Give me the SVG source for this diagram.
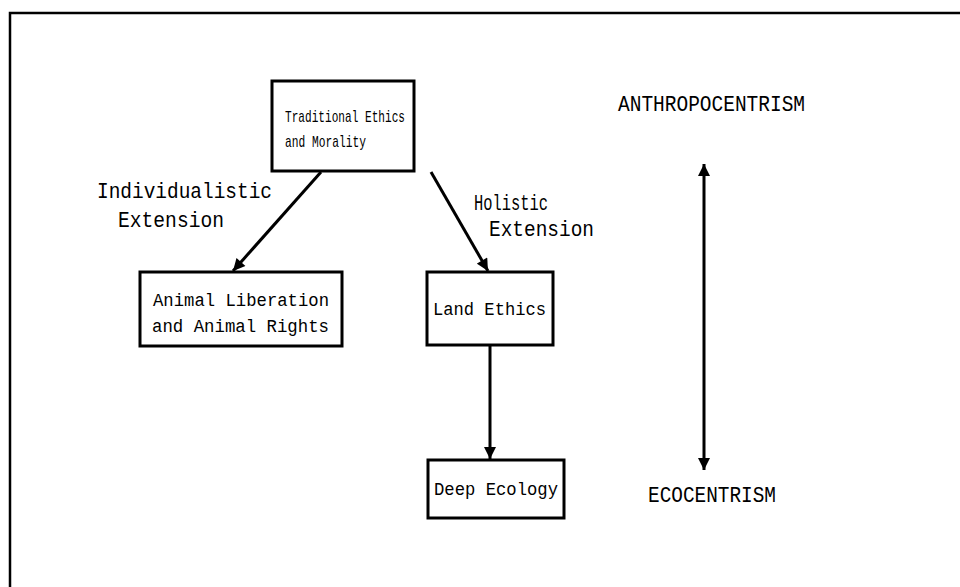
<svg xmlns="http://www.w3.org/2000/svg" width="960" height="587" viewBox="0 0 960 587">
<style>
.box{fill:#fff;stroke:#000;stroke-width:3}
.t{font-family:"Liberation Mono","DejaVu Sans Mono",monospace;fill:#000}
.s{font-size:17px}
.m{font-size:18px}
.l{font-size:22px}
.c{stroke:#000;stroke-width:3;fill:none}
</style>
<defs>
<marker id="ah" viewBox="0 0 10 10" refX="10" refY="5" markerWidth="4.5" markerHeight="4" orient="auto-start-reverse" markerUnits="strokeWidth">
<path d="M0,0 L10,5 L0,10 Z" fill="#000"/>
</marker>
</defs>
<rect width="960" height="587" fill="#fff"/>
<path d="M10,587 V13 H960" fill="none" stroke="#000" stroke-width="2.5"/>
<g id="connectors">
<line class="c" x1="321" y1="172" x2="233" y2="271" marker-end="url(#ah)"/>
<line class="c" x1="431" y1="172" x2="488" y2="271" marker-end="url(#ah)"/>
<line class="c" x1="490" y1="346" x2="490" y2="459" marker-end="url(#ah)"/>
<line class="c" x1="704" y1="164" x2="704" y2="470" marker-start="url(#ah)" marker-end="url(#ah)"/>
<text class="t l" x="97" y="198" textLength="175" lengthAdjust="spacingAndGlyphs">Individualistic</text>
<text class="t l" x="118" y="227" textLength="106" lengthAdjust="spacingAndGlyphs">Extension</text>
<text class="t l" x="474" y="210" textLength="74" lengthAdjust="spacingAndGlyphs">Holistic</text>
<text class="t l" x="489" y="236" textLength="105" lengthAdjust="spacingAndGlyphs">Extension</text>
</g>
<g id="traditional">
<rect class="box" x="272" y="81" width="142" height="90"/>
<text class="t s" x="285" y="122" textLength="120" lengthAdjust="spacingAndGlyphs">Traditional Ethics</text>
<text class="t s" x="285" y="147" textLength="81" lengthAdjust="spacingAndGlyphs">and Morality</text>
</g>
<g id="animal">
<rect class="box" x="140" y="272" width="202" height="74"/>
<text class="t m" x="153" y="306" textLength="176" lengthAdjust="spacingAndGlyphs">Animal Liberation</text>
<text class="t m" x="152" y="332" textLength="177" lengthAdjust="spacingAndGlyphs">and Animal Rights</text>
</g>
<g id="land">
<rect class="box" x="427" y="272" width="126" height="73"/>
<text class="t m" x="433" y="315" textLength="113" lengthAdjust="spacingAndGlyphs">Land Ethics</text>
</g>
<g id="deep">
<rect class="box" x="428" y="460" width="136" height="58"/>
<text class="t m" x="434" y="495" textLength="124" lengthAdjust="spacingAndGlyphs">Deep Ecology</text>
</g>
<g id="anthropocentrism">
<text class="t l" x="618" y="111" textLength="187" lengthAdjust="spacingAndGlyphs">ANTHROPOCENTRISM</text>
</g>
<g id="ecocentrism">
<text class="t l" x="648" y="502" textLength="128" lengthAdjust="spacingAndGlyphs">ECOCENTRISM</text>
</g>
</svg>
